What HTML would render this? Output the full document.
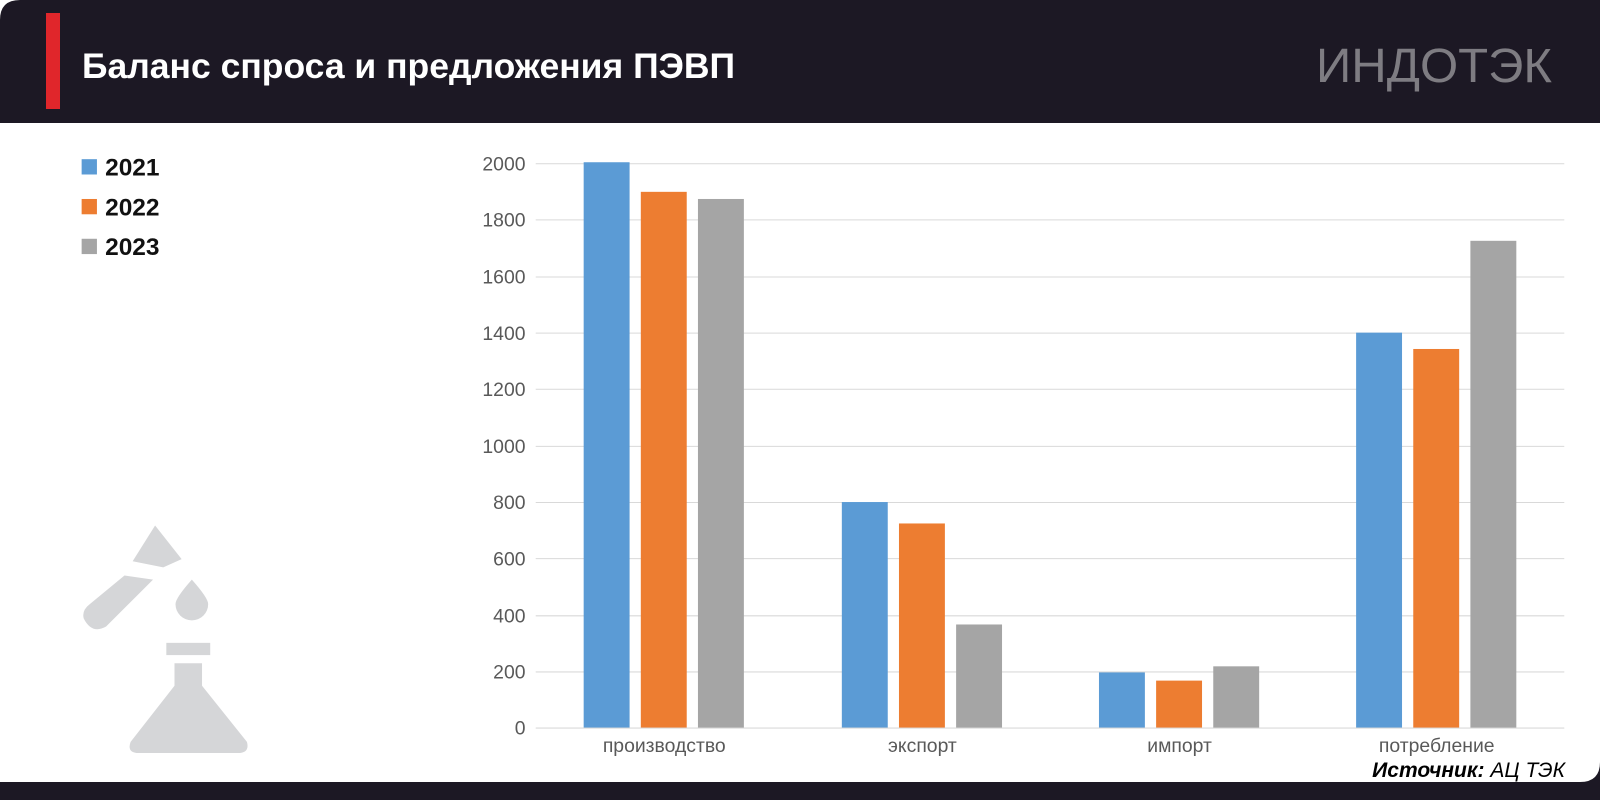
<!DOCTYPE html>
<html><head><meta charset="utf-8"><style>
body{margin:0;background:#fff;}
svg{display:block;font-family:"Liberation Sans",sans-serif;}
</style></head><body>
<svg width="1600" height="800" viewBox="0 0 1600 800">
<rect x="0" y="0" width="1600" height="123" fill="#1c1824"/>
<path d="M0 20 Q0 0 20 0 L0 0Z" fill="#fff"/>
<rect x="46" y="13" width="14" height="96" fill="#e0262b"/>
<text x="82" y="78" fill="#fff" font-size="35" font-weight="bold" textLength="653" lengthAdjust="spacingAndGlyphs">Баланс спроса и предложения ПЭВП</text>
<text x="1316" y="82" fill="#7e7c82" font-size="48" textLength="236" lengthAdjust="spacingAndGlyphs">ИНДОТЭК</text>
<rect x="0" y="782" width="1600" height="18" fill="#1c1824"/>
<path d="M1580 782 Q1600 782 1600 762 L1600 782Z" fill="#1c1824"/>
<text x="1565" y="777" text-anchor="end" font-size="21" font-style="italic" fill="#000"><tspan font-weight="bold">Источник:</tspan> АЦ ТЭК</text>
<g transform="scale(1.0204)">
<!-- legend -->
<rect x="80" y="156" width="15" height="15" fill="#5b9bd5"/>
<rect x="80" y="195" width="15" height="15" fill="#ed7d31"/>
<rect x="80" y="234" width="15" height="15" fill="#a5a5a5"/>
<g font-size="24" font-weight="bold" fill="#111">
<text x="103" y="172">2021</text><text x="103" y="211">2022</text><text x="103" y="250">2023</text></g>
<!-- icon -->
<g fill="#d5d6d8" transform="translate(0,0)">
<path d="M152 515 L178 548 L160 556 L130 550 Z"/>
<path d="M122 564 L150 568 L104 614 Q90 622 82 606 Q80 598 88 592 Z"/>
<path d="M188 568 Q204 586 204 592 A16 16 0 1 1 172 592 Q172 586 188 568Z"/>
<rect x="163" y="630" width="43" height="12"/>
<path d="M171 650 L198 650 L198 672 L242 727 Q245 738 233 738 L136 738 Q124 738 128 727 L171 672Z"/>
</g>
<!-- grid -->
<g stroke="#d9d9d9" stroke-width="1">
<line x1="525" x2="1533" y1="160.5" y2="160.5"/><line x1="525" x2="1533" y1="215.5" y2="215.5"/>
<line x1="525" x2="1533" y1="271.5" y2="271.5"/><line x1="525" x2="1533" y1="326.5" y2="326.5"/>
<line x1="525" x2="1533" y1="381.5" y2="381.5"/><line x1="525" x2="1533" y1="437.5" y2="437.5"/>
<line x1="525" x2="1533" y1="492.5" y2="492.5"/><line x1="525" x2="1533" y1="547.5" y2="547.5"/>
<line x1="525" x2="1533" y1="603.5" y2="603.5"/><line x1="525" x2="1533" y1="658.5" y2="658.5"/>
<line x1="525" x2="1533" y1="713.5" y2="713.5"/></g>
<g font-size="19" fill="#595959" text-anchor="end">
<text x="515" y="167">2000</text><text x="515" y="222">1800</text><text x="515" y="278">1600</text>
<text x="515" y="333">1400</text><text x="515" y="388">1200</text><text x="515" y="444">1000</text>
<text x="515" y="499">800</text><text x="515" y="554">600</text><text x="515" y="610">400</text>
<text x="515" y="665">200</text><text x="515" y="720">0</text></g>
<!-- bars -->
<g fill="#5b9bd5"><rect x="572" y="159" width="45" height="554"/><rect x="825" y="492" width="45" height="221"/><rect x="1077" y="659" width="45" height="54"/><rect x="1329" y="326" width="45" height="387"/></g>
<g fill="#ed7d31"><rect x="628" y="188" width="45" height="525"/><rect x="881" y="513" width="45" height="200"/><rect x="1133" y="667" width="45" height="46"/><rect x="1385" y="342" width="45" height="371"/></g>
<g fill="#a5a5a5"><rect x="684" y="195" width="45" height="518"/><rect x="937" y="612" width="45" height="101"/><rect x="1189" y="653" width="45" height="60"/><rect x="1441" y="236" width="45" height="477"/></g>
<g font-size="19" fill="#595959" text-anchor="middle">
<text x="651" y="737">производство</text><text x="904" y="737">экспорт</text>
<text x="1156" y="737">импорт</text><text x="1408" y="737">потребление</text></g>
</g>
</svg>
</body></html>
